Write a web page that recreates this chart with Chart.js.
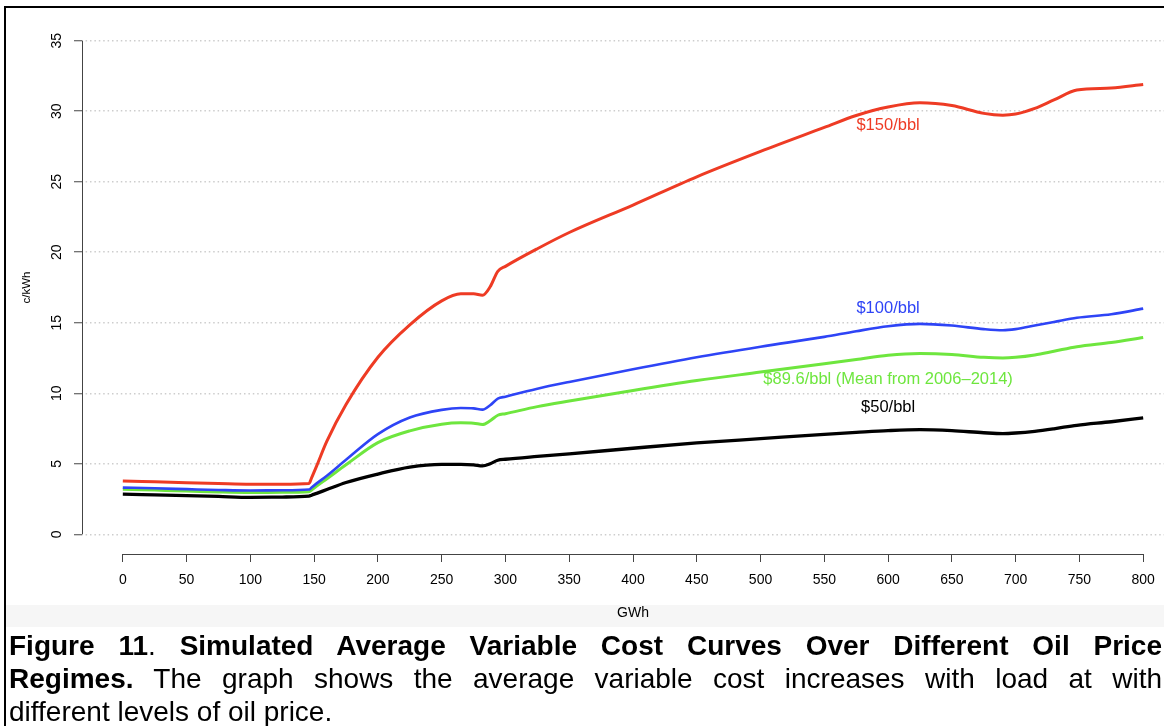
<!DOCTYPE html>
<html>
<head>
<meta charset="utf-8">
<script src="https://cdn.jsdelivr.net/npm/chart.js@4.4.1/dist/chart.umd.min.js"></script>
<style>
  html, body { margin: 0; padding: 0; background: #fff; width: 1164px; height: 726px; overflow: hidden; }
  body { position: relative; font-family: 'Liberation Sans', Arial, Helvetica, sans-serif; }
  #frame { position: absolute; left: 4px; top: 6px; width: 1170px; height: 730px;
           border-left: 2px solid #000; border-top: 2px solid #000; box-sizing: border-box; }
  #band { position: absolute; left: 6px; top: 605px; width: 1160px; height: 22px; background: #f6f6f6; }
  #wrap { position: absolute; left: 0; top: 0; width: 1200px; height: 640px; }
  #caption { position: absolute; left: 9px; top: 629px; width: 1153px; font-size: 28px;
             line-height: 33px; color: #000; }
  #caption .j { text-align: justify; text-align-last: justify; white-space: nowrap; }
  #caption .j { white-space: normal; }
  #caption b { font-weight: bold; }
</style>
</head>
<body>
<div id="band"></div>
<div id="wrap"><canvas id="c" width="1200" height="640"></canvas></div>
<div id="frame"></div>
<div id="caption">
  <div class="j"><b>Figure 11</b>. <b>Simulated Average Variable Cost Curves Over Different Oil Price</b></div>
  <div class="j"><b>Regimes.</b> The graph shows the average variable cost increases with load at with</div>
  <div>different levels of oil price.</div>
</div>
<script>
// Load (GWh) at which each curve is sampled
const gwh = [0, 25, 50, 75, 100, 125, 146, 148, 152, 160, 175, 200, 225, 250, 265, 275, 282, 288, 294, 300,
             325, 350, 400, 450, 500, 550, 575, 600, 625, 650, 675, 690, 700, 715, 730, 748, 775, 800];

// Average variable cost (c/kWh) for each oil price regime
const cost150 = [3.78, 3.72, 3.66, 3.60, 3.55, 3.55, 3.60, 4.0, 4.85, 6.6, 9.2, 12.55, 14.85, 16.55, 17.05, 17.05, 16.95, 17.55, 18.65, 19.0,
                 20.25, 21.4, 23.35, 25.35, 27.15, 28.85, 29.7, 30.3, 30.6, 30.4, 29.85, 29.72, 29.8, 30.2, 30.8, 31.5, 31.65, 31.9];
const cost100 = [3.31, 3.26, 3.20, 3.14, 3.10, 3.12, 3.17, 3.32, 3.61, 4.15, 5.28, 7.1, 8.28, 8.82, 8.95, 8.93, 8.84, 9.15, 9.62, 9.76,
                 10.32, 10.8, 11.7, 12.55, 13.3, 14.0, 14.4, 14.75, 14.92, 14.8, 14.55, 14.47, 14.55, 14.8, 15.05, 15.35, 15.6, 16.0];
const cost896 = [3.19, 3.13, 3.07, 3.00, 2.96, 2.98, 3.02, 3.14, 3.42, 3.94, 4.93, 6.5, 7.33, 7.8, 7.9, 7.88, 7.78, 8.05, 8.44, 8.55,
                 9.05, 9.45, 10.2, 10.9, 11.5, 12.1, 12.4, 12.7, 12.82, 12.75, 12.55, 12.5, 12.55, 12.72, 12.98, 13.3, 13.6, 13.95];
const cost50  = [2.84, 2.79, 2.74, 2.68, 2.62, 2.64, 2.70, 2.77, 2.9, 3.17, 3.67, 4.27, 4.76, 4.95, 4.95, 4.92, 4.85, 5.0, 5.25, 5.32,
                 5.52, 5.7, 6.1, 6.48, 6.78, 7.08, 7.22, 7.35, 7.42, 7.35, 7.2, 7.14, 7.18, 7.3, 7.48, 7.73, 7.98, 8.25];

// Axis ticks
const xTicks = [0, 50, 100, 150, 200, 250, 300, 350, 400, 450, 500, 550, 600, 650, 700, 750, 800];
const yTicks = [0, 5, 10, 15, 20, 25, 30, 35];

// In-plot curve labels
const seriesNames  = ['$150/bbl', '$100/bbl', '$89.6/bbl (Mean from 2006\u20132014)', '$50/bbl'];
const seriesColors = ['#ee3b24', '#2e44f6', '#6ee63e', '#000000'];
const labelX = [600, 600, 600, 600];
const labelY = [29, 16, 11, 9];

const FONT = "'Liberation Sans', Arial, Helvetica, sans-serif";
Chart.defaults.font.family = FONT;

const toPts = ys => gwh.map((x, i) => ({ x: x, y: ys[i] }));

// Draws R-style axis lines (spanning first to last tick), rotated y tick labels and curve labels
const decorations = {
  id: 'decorations',
  afterDatasetsDraw(chart) {
    const { ctx, scales: { x, y } } = chart;
    ctx.save();
    ctx.strokeStyle = '#444';
    ctx.lineWidth = 1;
    const yLineX = Math.round(chart.chartArea.left) + 0.5;
    ctx.beginPath();
    ctx.moveTo(yLineX, y.getPixelForValue(yTicks[0]));
    ctx.lineTo(yLineX, y.getPixelForValue(yTicks[yTicks.length - 1]));
    ctx.stroke();
    const xLineY = Math.round(chart.chartArea.bottom) + 0.5;
    ctx.beginPath();
    ctx.moveTo(x.getPixelForValue(xTicks[0]), xLineY);
    ctx.lineTo(x.getPixelForValue(xTicks[xTicks.length - 1]), xLineY);
    ctx.stroke();

    ctx.fillStyle = '#000';
    ctx.font = '14px ' + FONT;
    ctx.textAlign = 'center';
    ctx.textBaseline = 'middle';
    yTicks.forEach(v => {
      ctx.save();
      ctx.translate(57, y.getPixelForValue(v));
      ctx.rotate(-Math.PI / 2);
      ctx.fillText(String(v), 0, 0);
      ctx.restore();
    });

    ctx.font = '16.5px ' + FONT;
    seriesNames.forEach((name, i) => {
      ctx.fillStyle = seriesColors[i];
      ctx.fillText(name, x.getPixelForValue(labelX[i]), y.getPixelForValue(labelY[i]));
    });
    ctx.restore();
  }
};

new Chart(document.getElementById('c'), {
  type: 'line',
  data: {
    datasets: [
      { label: seriesNames[0], data: toPts(cost150), borderColor: seriesColors[0], borderWidth: 3 },
      { label: seriesNames[1], data: toPts(cost100), borderColor: seriesColors[1], borderWidth: 2.6 },
      { label: seriesNames[2], data: toPts(cost896), borderColor: seriesColors[2], borderWidth: 3 },
      { label: seriesNames[3], data: toPts(cost50),  borderColor: seriesColors[3], borderWidth: 3.3 }
    ]
  },
  options: {
    responsive: false,
    animation: false,
    devicePixelRatio: 1,
    layout: { padding: { left: 0, top: 21, right: 16, bottom: 0 } },
    plugins: { legend: { display: false }, tooltip: { enabled: false } },
    elements: {
      point: { radius: 0 },
      line: { cubicInterpolationMode: 'monotone', fill: false }
    },
    scales: {
      x: {
        type: 'linear', min: -32, max: 832,
        afterBuildTicks: s => { s.ticks = xTicks.map(v => ({ value: v })); },
        afterFit: s => { s.height = 86; },
        grid: { display: true, drawOnChartArea: false, drawTicks: true, tickLength: 8,
                tickColor: '#444', tickWidth: 1 },
        border: { display: false },
        ticks: { color: '#000', font: { size: 14 }, padding: 10, maxRotation: 0, minRotation: 0, autoSkip: false,
                 callback: v => String(v) },
        title: { display: true, text: 'GWh', color: '#000', font: { size: 14 }, padding: { top: 0, bottom: 18.6 } }
      },
      y: {
        type: 'linear', min: -1.4, max: 36.4,
        afterBuildTicks: s => { s.ticks = yTicks.map(v => ({ value: v })); },
        afterFit: s => { s.width = 82; },
        grid: { display: true, drawOnChartArea: true, drawTicks: true, tickLength: 8,
                color: '#cdcdcd', lineWidth: 1.5, tickColor: '#444', tickWidth: 1, tickBorderDash: [] },
        border: { display: false, dash: [1.5, 2.9], dashOffset: -8 },
        ticks: { display: false },
        title: { display: true, text: 'c/kWh', color: '#000', font: { size: 11.5 }, padding: { top: 20.2, bottom: 0 } }
      }
    }
  },
  plugins: [decorations]
});
</script>
</body>
</html>
